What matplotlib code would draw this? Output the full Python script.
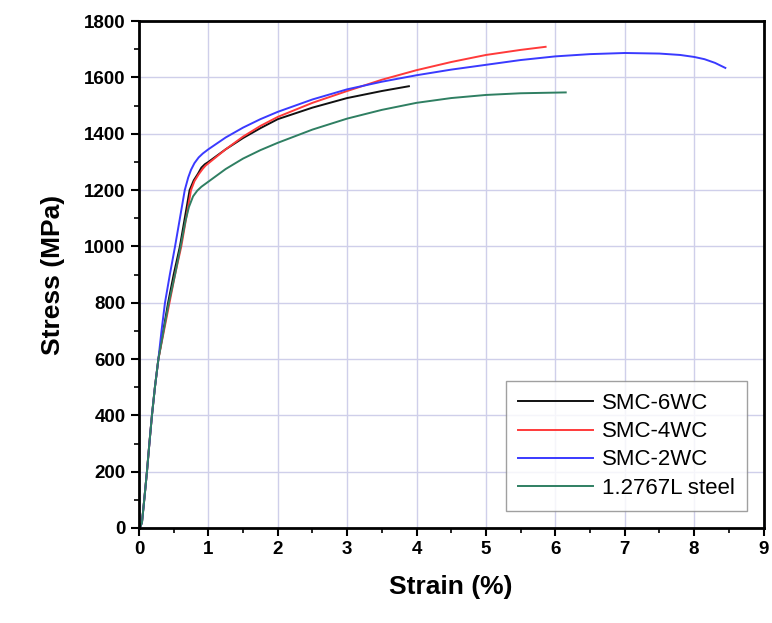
import matplotlib
matplotlib.use("Agg")
import matplotlib.pyplot as plt
from matplotlib.ticker import MultipleLocator

plt.rcParams['font.family'] = ['Liberation Sans', 'DejaVu Sans']

labels = ["SMC-6WC", "SMC-4WC", "SMC-2WC", "1.2767L steel"]
colors = ["#111111", "#ff3a3a", "#3a3aff", "#2f7f62"]

strain_6wc = [0, 0.02, 0.043, 0.08, 0.115, 0.15, 0.187, 0.23, 0.28, 0.35, 0.42, 0.5, 0.59, 0.66, 0.73, 0.79, 0.85, 0.9, 0.95, 1.0, 1.25, 1.5, 1.75, 2.0, 2.5, 3.0, 3.5, 3.89]
stress_6wc = [0, 5, 19, 110, 200, 300, 400, 500, 600, 700, 800, 900, 1000, 1100, 1200, 1235, 1258, 1280, 1292, 1300, 1345, 1385, 1420, 1452, 1493, 1527, 1552, 1569]

strain_4wc = [0, 0.02, 0.043, 0.08, 0.115, 0.15, 0.187, 0.23, 0.28, 0.36, 0.44, 0.52, 0.61, 0.68, 0.75, 0.8, 0.86, 0.92, 0.96, 1.0, 1.25, 1.5, 1.75, 2.0, 2.5, 3.0, 3.5, 4.0, 4.5, 5.0, 5.5, 5.86]
stress_4wc = [0, 5, 19, 110, 200, 300, 400, 500, 600, 700, 800, 900, 1000, 1100, 1200, 1232, 1256, 1276, 1287, 1295, 1345, 1390, 1428, 1460, 1510, 1552, 1592, 1626, 1655, 1680, 1698, 1709]

strain_2wc = [0, 0.02, 0.043, 0.08, 0.115, 0.15, 0.187, 0.23, 0.28, 0.325, 0.375, 0.445, 0.52, 0.59, 0.66, 0.71, 0.75, 0.8, 0.86, 0.92, 1.0, 1.25, 1.5, 1.75, 2.0, 2.5, 3.0, 3.5, 4.0, 4.5, 5.0, 5.5, 6.0, 6.5, 7.0, 7.5, 7.8, 8.0, 8.15, 8.3, 8.45]
stress_2wc = [0, 5, 19, 110, 200, 300, 400, 500, 600, 700, 800, 900, 1000, 1100, 1200, 1245, 1272, 1296, 1316, 1330, 1345, 1387, 1422, 1452, 1478, 1522, 1558, 1585, 1608, 1628, 1645, 1662, 1675, 1683, 1687, 1685, 1680, 1673, 1665, 1652, 1634]

strain_steel = [0, 0.02, 0.043, 0.08, 0.115, 0.15, 0.187, 0.23, 0.28, 0.355, 0.43, 0.52, 0.6, 0.67, 0.72, 0.78, 0.84, 0.9, 1.0, 1.25, 1.5, 1.75, 2.0, 2.5, 3.0, 3.5, 4.0, 4.5, 5.0, 5.5, 6.15]
stress_steel = [0, 5, 19, 110, 200, 300, 400, 500, 600, 700, 800, 900, 1000, 1090, 1140, 1178, 1198, 1212, 1230, 1275, 1312, 1342, 1368, 1415, 1454, 1485, 1510, 1527, 1538, 1544, 1547]

series = [(strain_6wc, stress_6wc), (strain_4wc, stress_4wc), (strain_2wc, stress_2wc), (strain_steel, stress_steel)]

fig = plt.figure(figsize=(7.72, 6.23), dpi=100)
ax = fig.add_axes([0.18, 0.1525, 0.809, 0.8135])

for (x, y), lab, c in zip(series, labels, colors):
    ax.plot(x, y, color=c, lw=1.4, label=lab, solid_joinstyle='round')

ax.set_xlim(0, 9)
ax.set_ylim(0, 1800)
ax.xaxis.set_major_locator(MultipleLocator(1))
ax.xaxis.set_minor_locator(MultipleLocator(0.5))
ax.yaxis.set_major_locator(MultipleLocator(200))
ax.yaxis.set_minor_locator(MultipleLocator(100))
ax.grid(True, which='major', color='#cfcfea', lw=1.0)
ax.set_axisbelow(True)

for s in ax.spines.values():
    s.set_linewidth(2.0)
ax.tick_params(which='major', direction='out', length=6, width=1.5, labelsize=13.5)
ax.tick_params(which='minor', direction='out', length=3.5, width=1.2)
for lab in ax.get_xticklabels() + ax.get_yticklabels():
    lab.set_fontweight('bold')

ax.set_xlabel("Strain (%)", fontsize=19, fontweight='bold', labelpad=12)
ax.set_ylabel("Stress (MPa)", fontsize=19, fontweight='bold', labelpad=14)

leg = ax.legend(loc='lower right', bbox_to_anchor=(0.975, 0.025), fontsize=16,
                frameon=True, fancybox=False, edgecolor='#888888', handlelength=3.4,
                handletextpad=0.4, labelspacing=0.32, borderpad=0.55)
leg.get_frame().set_linewidth(1.0)
leg.set_bbox_to_anchor((0.992, 0.012), transform=ax.transAxes)

fig.savefig("out.png", dpi=100)
